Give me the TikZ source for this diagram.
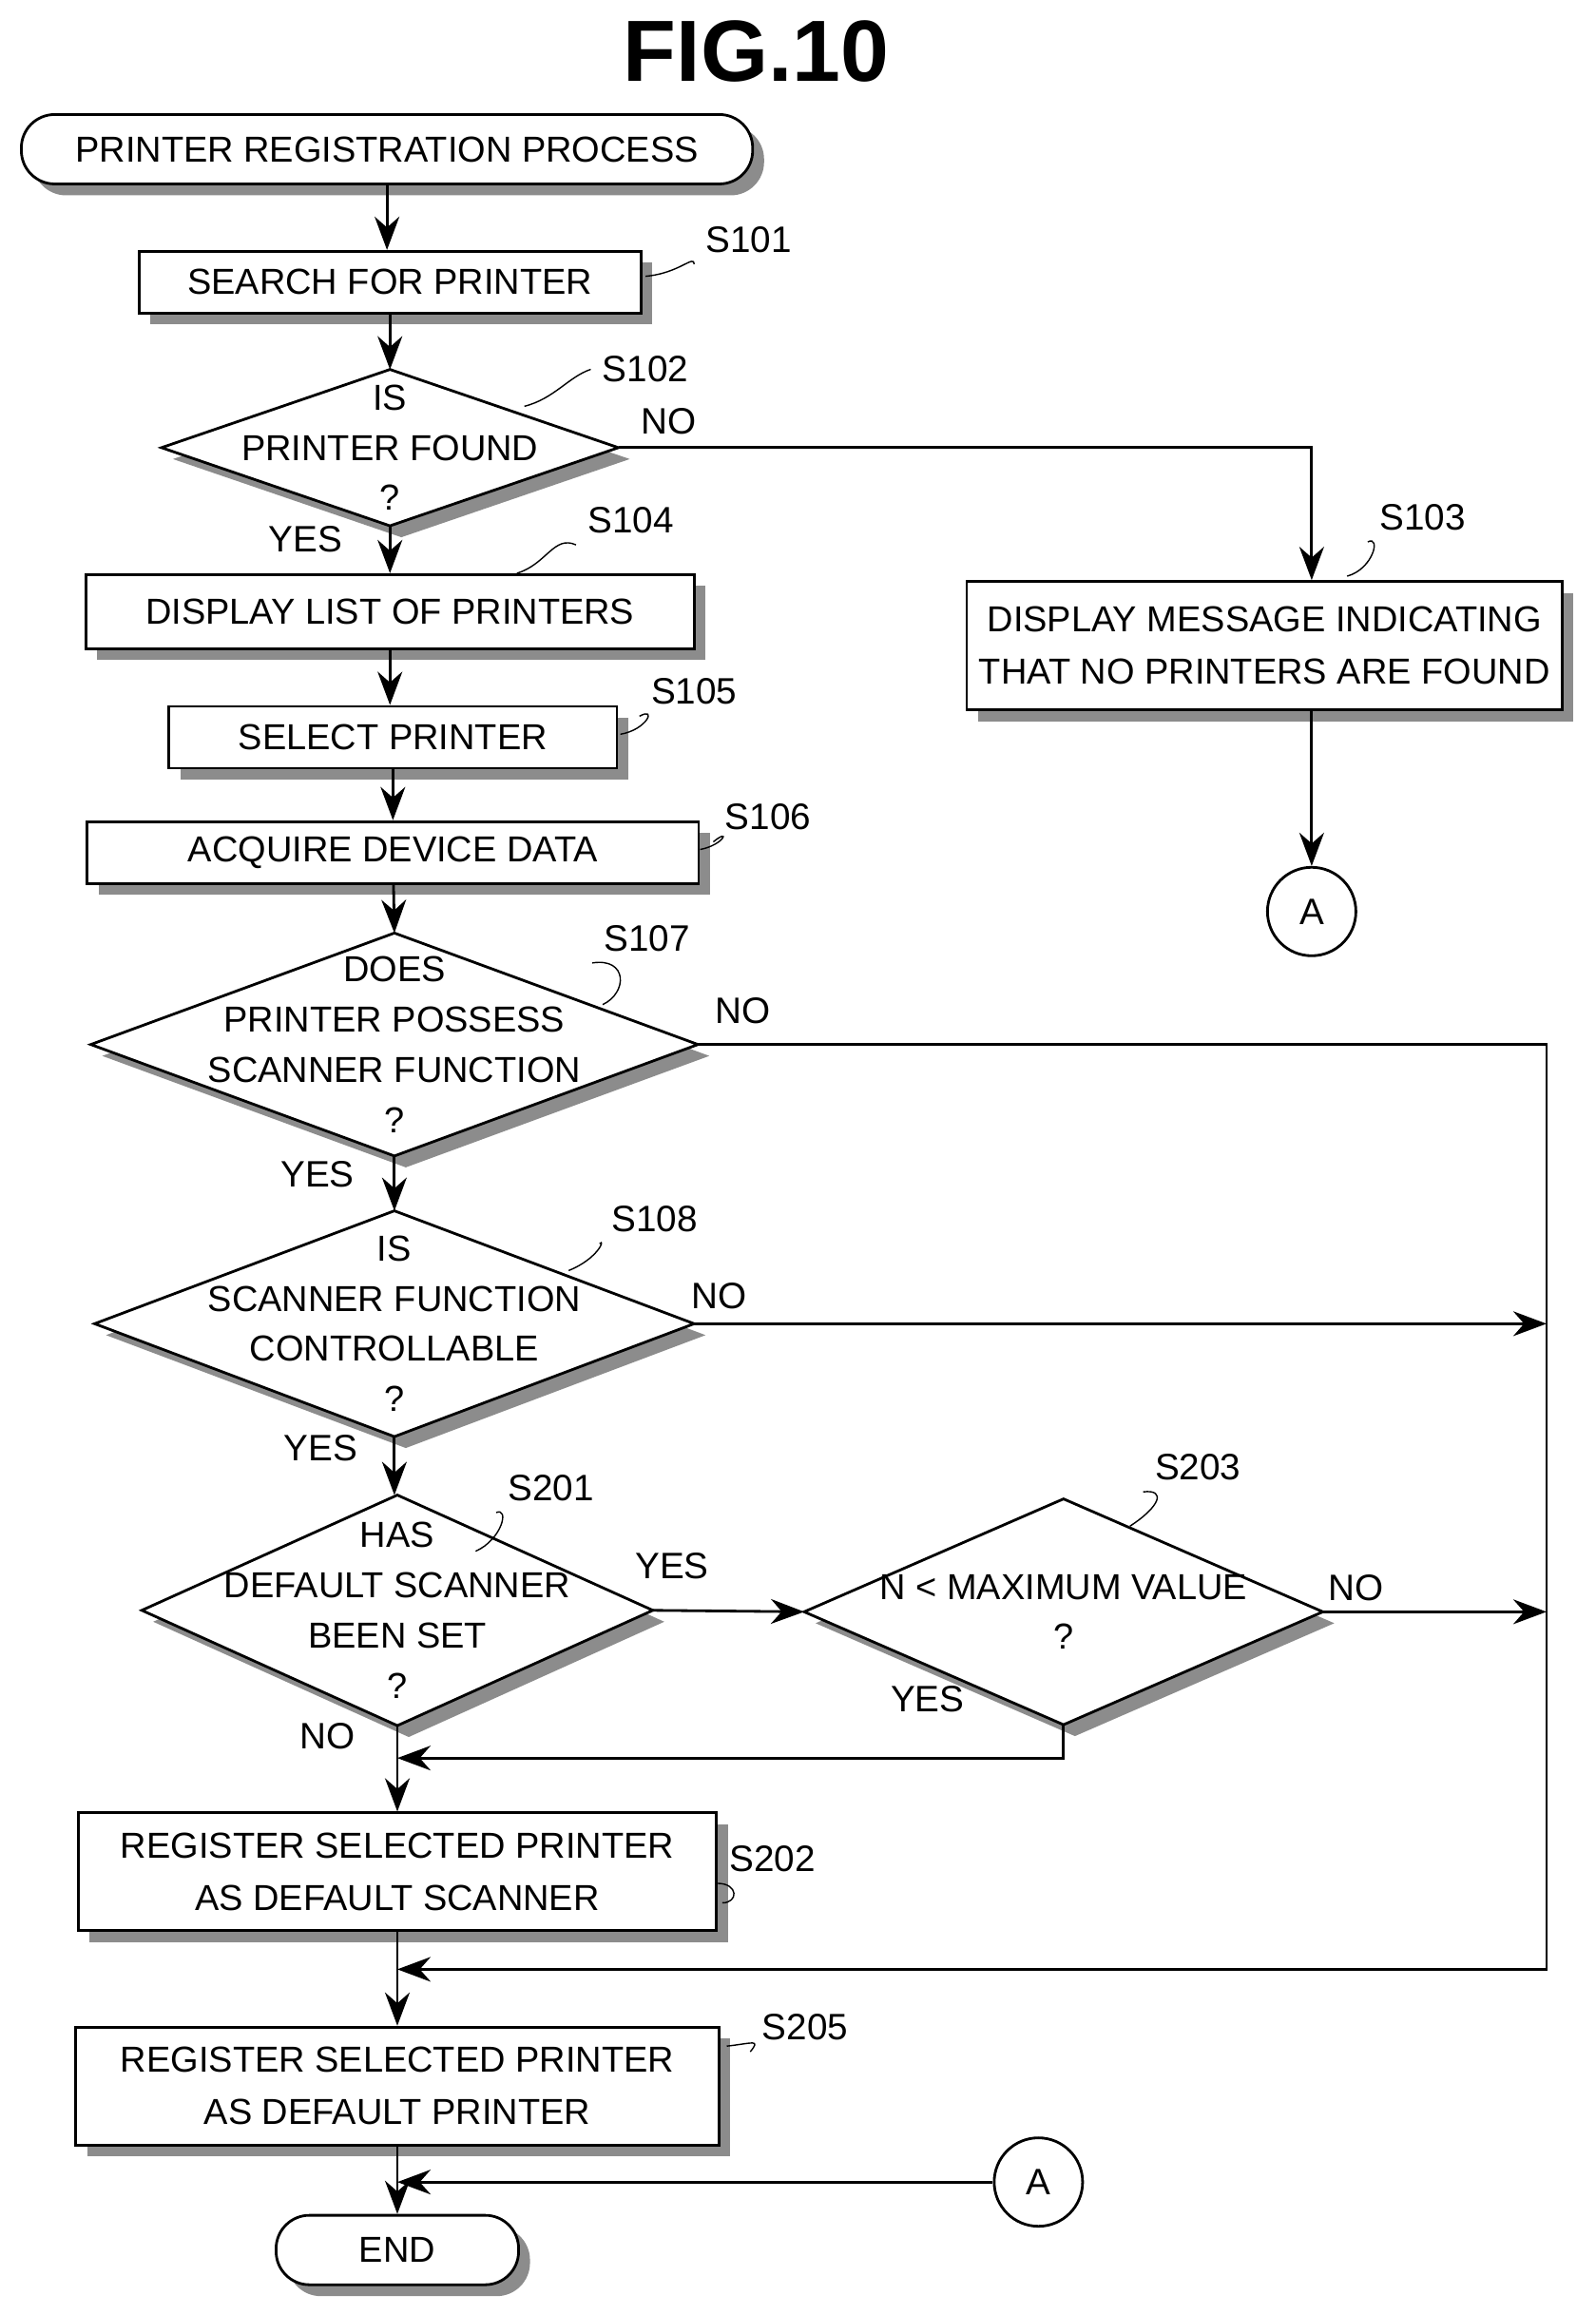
\documentclass[tikz,border=0pt]{standalone}
\usepackage{fontspec}
\setmainfont{Liberation Sans}
\usetikzlibrary{positioning}
\usetikzlibrary{calc}
\usetikzlibrary{shadows}
\usetikzlibrary{backgrounds}
\usetikzlibrary{arrows.meta}

\tikzset{
  shd/.style={drop shadow={shadow xshift=1.2mm,shadow yshift=-1.2mm,fill=black!45,opacity=1}},
  proc/.style={draw,thick,fill=white,shd,inner sep=0pt,align=center,font=\fontsize{10.8}{15.5}\selectfont},
  term/.style={proc,rounded corners=3.5mm},
  dec/.style={inner sep=0pt,align=center,font=\fontsize{10.8}{15}\selectfont},
  conn/.style={draw,thick,circle,minimum size=9.3mm,inner sep=0pt,font=\fontsize{11}{14}\selectfont},
  lbl/.style={font=\fontsize{11}{14}\selectfont},
  line/.style={thick,-{Stealth[length=3.5mm,width=2.6mm]}},
}
\newcommand{\dia}[1]{%
  \begin{pgfonlayer}{background}
  \draw[thick,fill=white,shd] (#1.north) -- (#1.east) -- (#1.south) -- (#1.west) -- cycle;
  \end{pgfonlayer}}

\begin{document}
\begin{tikzpicture}[x=0.01554cm,y=-0.01554cm]
\useasboundingbox (0,0) rectangle (1080,1567);

\node at (512,35) {\fontsize{26}{30}\selectfont\bfseries FIG.10};

\node[term,minimum width=7.69cm,minimum height=0.73cm] (start) at (262,101) {PRINTER REGISTRATION PROCESS};
\node[proc,minimum width=5.28cm,minimum height=0.65cm] (s101) at (264,191) {SEARCH FOR PRINTER};
\node[dec,minimum width=4.79cm,minimum height=1.63cm] (s102) at (264,303) {IS\\PRINTER FOUND\\?};
\node[proc,minimum width=6.40cm,minimum height=0.78cm] (s104) at (264,414) {DISPLAY LIST OF PRINTERS};
\node[proc,minimum width=6.26cm,minimum height=1.35cm] (s103) at (856,437) {DISPLAY MESSAGE INDICATING\\THAT NO PRINTERS ARE FOUND};
\node[conn] (a1) at (888,617) {A};
\node[proc,minimum width=4.71cm,minimum height=0.65cm] (s105) at (266,499) {SELECT PRINTER};
\node[proc,minimum width=6.43cm,minimum height=0.65cm] (s106) at (266,577) {ACQUIRE DEVICE DATA};
\node[dec,minimum width=6.37cm,minimum height=2.33cm] (s107) at (267,707) {DOES\\PRINTER POSSESS\\SCANNER FUNCTION\\?};
\node[dec,minimum width=6.29cm,minimum height=2.36cm] (s108) at (267,896) {IS\\SCANNER FUNCTION\\CONTROLLABLE\\?};
\node[dec,minimum width=5.36cm,minimum height=2.41cm] (s201) at (269,1090) {HAS\\DEFAULT SCANNER\\BEEN SET\\?};
\node[dec,minimum width=5.44cm,minimum height=2.36cm] (s203) at (720,1091) {N < MAXIMUM VALUE\\?};
\node[proc,minimum width=6.71cm,minimum height=1.24cm] (s202) at (269,1267) {REGISTER SELECTED PRINTER\\AS DEFAULT SCANNER};
\node[proc,minimum width=6.76cm,minimum height=1.24cm] (s205) at (269,1412) {REGISTER SELECTED PRINTER\\AS DEFAULT PRINTER};
\node[term,minimum width=2.55cm,minimum height=0.73cm] (end) at (269,1523) {END};
\node[conn] (a2) at (703,1477) {A};

\dia{s102} \dia{s107} \dia{s108} \dia{s201} \dia{s203}

% step labels
\node[lbl] (l101) at (507,162) {S101};
\node[lbl] (l102) at (437,250) {S102};
\node[lbl] (l104) at (427,352) {S104};
\node[lbl] (l103) at (963,350) {S103};
\node[lbl] (l105) at (470,468) {S105};
\node[lbl] (l106) at (520,553) {S106};
\node[lbl] (l107) at (438,635) {S107};
\node[lbl] (l108) at (443,825) {S108};
\node[lbl] (l201) at (373,1007) {S201};
\node[lbl] (l203) at (811,993) {S203};
\node[lbl] (l202) at (523,1258) {S202};
\node[lbl] (l205) at (545,1372) {S205};

\draw (437,187) .. controls (460,185) and (470,172) .. (l101.south west);
\draw (355,275) .. controls (375,270) and (385,255) .. (l102.west);
\draw (350,388) .. controls (370,382) and (375,362) .. (l104.south west);
\draw (912,390) .. controls (930,385) and (935,362) .. (l103.south west);
\draw (420,497) .. controls (438,494) and (445,478) .. (l105.south west);
\draw (474,575) .. controls (490,572) and (495,560) .. (l106.south west);
\draw (408,680) .. controls (425,672) and (425,648) .. (l107.south west);
\draw (385,860) .. controls (405,852) and (410,838) .. (l108.south west);
\draw (322,1050) .. controls (340,1042) and (345,1020) .. (l201.south west);
\draw (765,1033) .. controls (785,1020) and (790,1008) .. (l203.south west);
\draw (489,1288) .. controls (500,1288) and (500,1275) .. (l202.south west);
\draw (492,1385) .. controls (510,1383) and (515,1380) .. (l205.south west);

% flow
\draw[line] (start) -- (start |- s101.north);
\draw[line] (s101) -- (s102.north);
\draw[line] (s102.south) -- (s104);
\draw[line] (s102.east) -| (s103.north -| a1);
\draw[line] (s103.south -| a1) -- (a1);
\draw[line] (s104) -- (s104 |- s105.north);
\draw[line] (s105) -- (s105 |- s106.north);
\draw[line] (s106) -- (s107.north);
\draw[line] (s107.south) -- (s108.north);
\draw[line] (s108.south) -- (s108.south |- s201.north);
\draw[line] (s201.south) -- (s202);
\draw[line] (s201.east) -- (s203.west);
\draw[line] (s203.south) |- (269,1190);
\draw[line] (s202) -- (s205);
\draw[line] (s205) -- (end);

\coordinate (c1) at (1047,707);
\coordinate (c2) at (1047,1333);
\draw[line] (s107.east) -- (c1) -- (c2) -- (269,1333);
\draw[line] (s108.east) -- (1047,896);
\draw[line] (s203.east) -- (1047,1091);
\draw[line] (a2) -- (269,1477);

\node[lbl] at (453,285) {NO};
\node[lbl] at (207,365) {YES};
\node[lbl] at (503,684) {NO};
\node[lbl] at (215,795) {YES};
\node[lbl] at (487,877) {NO};
\node[lbl] at (217,980) {YES};
\node[lbl] at (455,1060) {YES};
\node[lbl] at (222,1175) {NO};
\node[lbl] at (918,1075) {NO};
\node[lbl] at (628,1150) {YES};
\end{tikzpicture}
\end{document}
